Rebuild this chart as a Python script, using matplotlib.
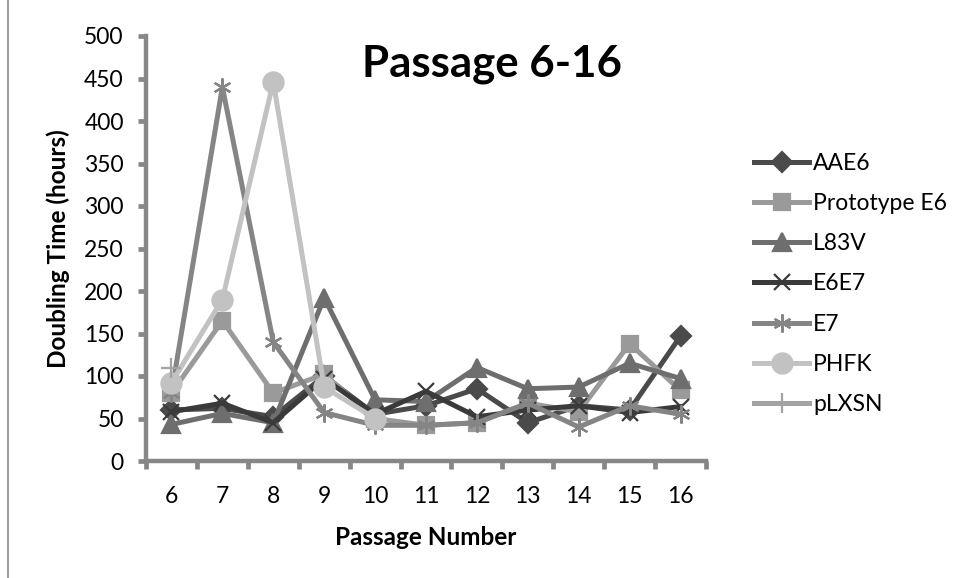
import numpy as np
import matplotlib.pyplot as plt
from matplotlib.lines import Line2D

plt.rcParams['font.family'] = ['Lato', 'DejaVu Sans']

passages = [6, 7, 8, 9, 10, 11, 12, 13, 14, 15, 16]

nan = np.nan
aae6 = [60, 62, 52, 100, 55, 65, 85, 45, 65, 60, 147]
prototype_e6 = [80, 165, 80, 102, 50, 42, 45, 68, 58, 138, 83]
l83v = [43, 56, 45, 192, 72, 70, 110, 85, 87, 115, 97]
e6e7 = [58, 68, 45, 97, 55, 82, 52, 60, 65, 57, 64]
e7 = [80, 440, 140, 57, 42, 42, 45, 68, 40, 65, 55]
phfk = [92, 190, 446, 87, 50, nan, nan, nan, nan, nan, nan]
plxsn = [110, nan, nan, nan, nan, nan, nan, nan, nan, nan, nan]

names = ['AAE6', 'Prototype E6', 'L83V', 'E6E7', 'E7', 'PHFK', 'pLXSN']

series = [aae6, prototype_e6, l83v, e6e7, e7, phfk, plxsn]
colors = ['#4a4a4a', '#9a9a9a', '#6e6e6e', '#3a3a3a', '#858585', '#c2c2c2', '#a3a3a3']
markers = ['D', 's', '^', 'x', (6, 2, 0), 'o', '+']
msizes = [10.5, 12, 13, 12, 13, 14.5, 15]

axis_grey = '#878787'

fig = plt.figure(figsize=(9.59, 5.78), dpi=100)
ax = fig.add_axes([146 / 959, 1 - 461 / 578, (706 - 146) / 959, (461 - 36) / 578])

for vals, name, c, m, ms in zip(series, names, colors, markers, msizes):
    ax.plot(passages, vals, color=c, lw=3.6, marker=m, ms=ms,
            mfc=c, mec=c, mew=1.6, label=name, solid_joinstyle='miter')

ax.set_xlim(5.5, 16.5)
ax.set_ylim(0, 500)
ax.set_yticks(np.arange(0, 501, 50))
ax.set_xticks(passages)
ax.set_xticks(np.arange(5.5, 16.6, 1), minor=True)
ax.tick_params(axis='x', which='major', length=0, pad=18, labelsize=16.5)
ax.tick_params(axis='x', which='minor', length=6, width=3.4, color=axis_grey)
ax.tick_params(axis='y', length=6, width=3.4, color=axis_grey, pad=10, labelsize=16.5)

for side in ['top', 'right']:
    ax.spines[side].set_visible(False)
for side in ['left', 'bottom']:
    ax.spines[side].set_color(axis_grey)
    ax.spines[side].set_linewidth(3.2)

ax.set_xlabel('Passage Number', fontsize=17.5, fontweight='bold')
ax.set_ylabel('Doubling Time (hours)', fontsize=17.5, fontweight='bold')
ax.xaxis.set_label_coords(0.5, -0.152)
ax.yaxis.set_label_coords(-0.136, 0.5)
ax.text(0.617, 0.935, 'Passage 6-16', transform=ax.transAxes, ha='center', va='center',
        fontsize=31.5, fontweight='bold')

ax.legend(loc='center left', bbox_to_anchor=(743 / 959, 1 - 284 / 578),
          bbox_transform=fig.transFigure, frameon=False, fontsize=16.5,
          borderpad=0, handlelength=2.4, handletextpad=0.16, labelspacing=0.84,
          numpoints=1)

# chart area edge
fig.add_artist(Line2D([8 / 959, 8 / 959], [0, 1], color='#8c8c8c', lw=1.2))

fig.savefig('out.png', dpi=100)
